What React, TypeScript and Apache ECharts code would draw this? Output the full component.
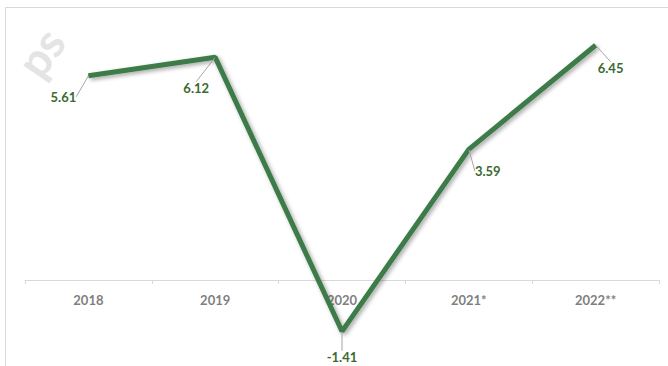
import React, { useEffect, useRef } from "react";
import * as echarts from "echarts";

const categories = ["2018", "2019", "2020", "2021*", "2022**"];
const values = [5.61, 6.12, -1.41, 3.59, 6.45];
const labelOffsets: [number, number][] = [
  [-25, 21],
  [-19, 31],
  [0, 26],
  [19, 22],
  [15, 23],
];

export default function App() {
  const ref = useRef<HTMLDivElement>(null);
  useEffect(() => {
    if (!ref.current) return;
    const chart = echarts.init(ref.current, null, { renderer: "svg" });
    chart.setOption({
      animation: false,
      backgroundColor: "#ffffff",
      graphic: [
        {
          type: "rect",
          shape: { x: 5.5, y: 7.5, width: 720, height: 420 },
          style: { fill: "none", stroke: "#d9d9d9", lineWidth: 1 },
          silent: true,
          z: -10,
        },
        {
          type: "text",
          x: 8,
          y: 58,
          rotation: (55 * Math.PI) / 180,
          style: {
            text: "ps",
            fontSize: 46,
            fontWeight: "bold",
            fontFamily: "Lato",
            fill: "#e4e4e4",
          },
          silent: true,
          z: -5,
        },
      ],
      grid: [
        { left: 25, right: 9, top: 25.2, bottom: 13.2, outerBoundsMode: "none", containLabel: false },
        { left: 25, right: 9, top: 200, bottom: 86, outerBoundsMode: "none", containLabel: false },
      ],
      xAxis: [
        {
          type: "category",
          gridIndex: 0,
          data: categories,
          boundaryGap: true,
          show: false,
        },
        {
          type: "category",
          gridIndex: 1,
          data: categories,
          boundaryGap: true,
          axisLine: { show: true, onZero: false, lineStyle: { color: "#d9d9d9", width: 1 } },
          axisTick: { show: true, length: 4, lineStyle: { color: "#d9d9d9" } },
          axisLabel: {
            color: "#7f7f7f",
            fontWeight: "bold",
            fontSize: 13,
            fontFamily: "Lato",
            margin: 13,
          },
        },
      ],
      yAxis: [
        {
          type: "value",
          gridIndex: 0,
          min: -2,
          max: 7,
          show: false,
          splitLine: { show: false },
        },
        {
          type: "value",
          gridIndex: 1,
          min: 0,
          max: 1,
          show: false,
          splitLine: { show: false },
        },
      ],
      series: [
        {
          type: "line",
          xAxisIndex: 0,
          yAxisIndex: 0,
          data: values,
          symbol: "circle",
          symbolSize: 1,
          showSymbol: true,
          z: 5,
          itemStyle: { color: "#3e7b4a" },
          lineStyle: {
            color: "#3e7b4a",
            width: 5,
            shadowColor: "rgba(0,0,0,0.35)",
            shadowBlur: 4,
            shadowOffsetX: 2,
            shadowOffsetY: 2,
          },
          label: {
            show: true,
            position: "inside",
            color: "#3b6a2f",
            fontWeight: "bold",
            fontSize: 13,
            fontFamily: "Lato",
            formatter: (p: any) => p.value.toFixed(2),
          },
          labelLine: {
            show: true,
            lineStyle: { color: "#a6a6a6", width: 1 },
          },
          labelLayout: (p: any) => ({
            dx: labelOffsets[p.dataIndex][0],
            dy: labelOffsets[p.dataIndex][1],
          }),
        },
      ],
    });
    return () => chart.dispose();
  }, []);
  return (
    <div
      ref={ref}
      style={{ position: "fixed", left: 0, top: 0, width: 668, height: 366 }}
    />
  );
}
